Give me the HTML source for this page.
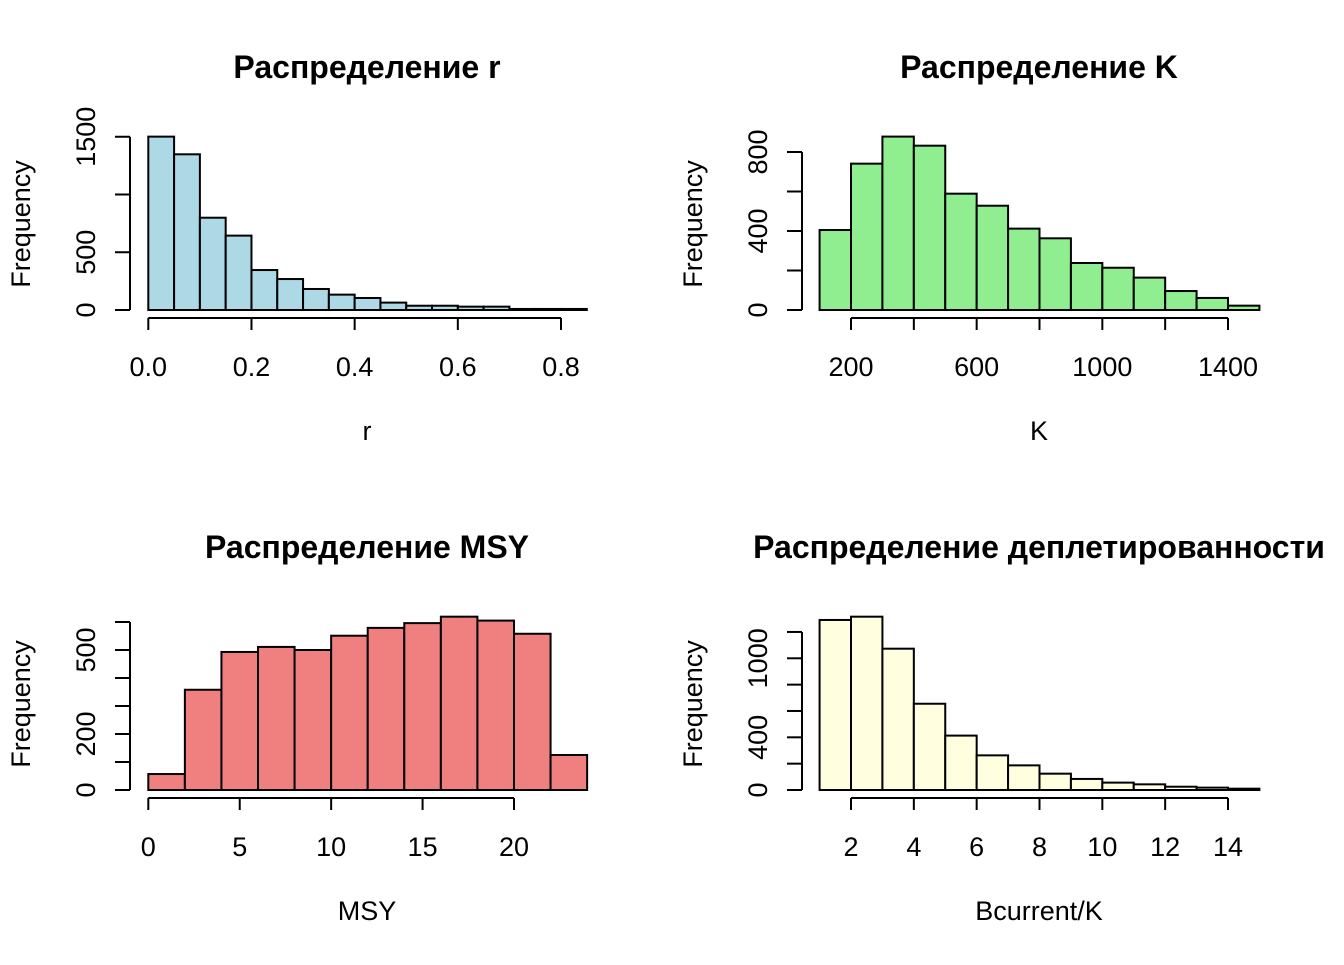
<!DOCTYPE html>
<html><head><meta charset="utf-8"><style>
html,body{margin:0;padding:0;background:#fff}
svg text{font-family:"Liberation Sans",Arial,sans-serif;fill:#000}
</style></head><body>
<svg id="c" width="1344" height="960"></svg>
<script>
const rBreaks0 = 0, rWidth = 0.05;
const rCounts = [1501,1348,799,644,346,268,182,133,104,64,37,37,29,29,9,9,9];
const rXTicks = [0,0.2,0.4,0.6,0.8];
const rXTickLabels = ["0.0","0.2","0.4","0.6","0.8"];
const rYTicks = [0,500,1000,1500];
const rYTickLabels = ["0","500","","1500"];

const kBreaks0 = 100, kWidth = 100;
const kCounts = [405,741,878,832,589,528,412,363,238,214,164,96,61,22];
const kXTicks = [200,400,600,800,1000,1200,1400];
const kXTickLabels = ["200","","600","","1000","","1400"];
const kYTicks = [0,200,400,600,800];
const kYTickLabels = ["0","","400","","800"];

const mBreaks0 = 0, mWidth = 2;
const mCounts = [57,358,493,511,500,551,579,596,619,605,558,125];
const mXTicks = [0,5,10,15,20];
const mXTickLabels = ["0","5","10","15","20"];
const mYTicks = [0,100,200,300,400,500,600];
const mYTickLabels = ["0","","200","","","500",""];

const bBreaks0 = 1, bWidth = 1;
const bCounts = [1291,1316,1073,655,413,263,187,124,84,56,43,25,18,10];
const bXTicks = [2,4,6,8,10,12,14];
const bXTickLabels = ["2","4","6","8","10","12","14"];
const bYTicks = [0,200,400,600,800,1000,1200];
const bYTickLabels = ["0","","400","","","1000",""];

const svg = document.getElementById('c');
const NS = 'http://www.w3.org/2000/svg';
function mk(tag, attrs, parent){const e=document.createElementNS(NS,tag);for(const k in attrs)e.setAttribute(k,attrs[k]);parent.appendChild(e);return e;}
const LW = 2;
function panel(o){
  const g = mk('g',{},svg);
  
  
  const sx = v => o.x0px + (v - o.x0v) * o.xs;
  const sy = v => o.y0px - v * o.ys;
  o.counts.forEach((c,i)=>{
    const a = o.b0 + i*o.w, b = a + o.w;
    const r = mk('rect',{x:sx(a),y:sy(c),width:sx(b)-sx(a),height:sy(0)-sy(c),fill:o.fill,stroke:'#000','stroke-width':LW},g);
    
    
  });
  const xa = mk('line',{x1:sx(o.xt[0]),x2:sx(o.xt[o.xt.length-1]),y1:o.y0px+8,y2:o.y0px+8,stroke:'#000','stroke-width':LW},g);
  
  
  o.xt.forEach((t,i)=>{
    mk('line',{x1:sx(t),x2:sx(t),y1:o.y0px+8,y2:o.y0px+20,stroke:'#000','stroke-width':LW},g);
    if(o.xl[i]){const tx=mk('text',{x:sx(t),y:o.y0px+66,'text-anchor':'middle','font-size':27},g);tx.textContent=o.xl[i];
      
      }
  });
  const ax = o.axX;
  const ya = mk('line',{x1:ax,x2:ax,y1:sy(o.yt[o.yt.length-1]),y2:sy(0),stroke:'#000','stroke-width':LW},g);
  
  
  o.yt.forEach((t,i)=>{
    mk('line',{x1:ax-15,x2:ax,y1:sy(t),y2:sy(t),stroke:'#000','stroke-width':LW},g);
    if(o.yl[i]){const tx=mk('text',{x:0,y:0,'text-anchor':'middle','font-size':27,transform:`translate(${ax-35},${sy(t)}) rotate(-90)`},g);tx.textContent=o.yl[i];
      
      }
  });
  const ty = mk('text',{x:0,y:0,'text-anchor':'middle','font-size':27,transform:`translate(${ax-100},${o.y0px-86}) rotate(-90)`},g);
  ty.textContent='Frequency';
  
  
  const tx = mk('text',{x:o.cx,y:o.y0px+130,'text-anchor':'middle','font-size':27},g);
  tx.textContent=o.xlab;
  
  
  const tt = mk('text',{x:o.cx,y:o.y0px-232,'text-anchor':'middle','font-size':32,'font-weight':'bold'},g);
  tt.textContent=o.title;
  
  
}

panel({name:'panel-r',counts:rCounts,b0:rBreaks0,w:rWidth,xt:rXTicks,xl:rXTickLabels,yt:rYTicks,yl:rYTickLabels,
  x0v:0,x0px:148.3,xs:(561-148.3)/0.8,y0px:310,ys:0.1155,axX:130,fill:'#add8e6',cx:367,xlab:'r',title:'Распределение r'});
panel({name:'panel-k',counts:kCounts,b0:kBreaks0,w:kWidth,xt:kXTicks,xl:kXTickLabels,yt:kYTicks,yl:kYTickLabels,
  x0v:200,x0px:851,xs:(1228-851)/1200,y0px:310,ys:0.1975,axX:802,fill:'#90ee90',cx:1039,xlab:'K',title:'Распределение K'});
panel({name:'panel-msy',counts:mCounts,b0:mBreaks0,w:mWidth,xt:mXTicks,xl:mXTickLabels,yt:mYTicks,yl:mYTickLabels,
  x0v:0,x0px:148.3,xs:(514-148.3)/20,y0px:790,ys:0.28,axX:130,fill:'#f08080',cx:367,xlab:'MSY',title:'Распределение MSY'});
panel({name:'panel-depletion',counts:bCounts,b0:bBreaks0,w:bWidth,xt:bXTicks,xl:bXTickLabels,yt:bYTicks,yl:bYTickLabels,
  x0v:2,x0px:851,xs:(1228-851)/12,y0px:790,ys:0.1317,axX:802,fill:'#ffffe0',cx:1039,xlab:'Bcurrent/K',title:'Распределение деплетированности'});
</script>
</body></html>
